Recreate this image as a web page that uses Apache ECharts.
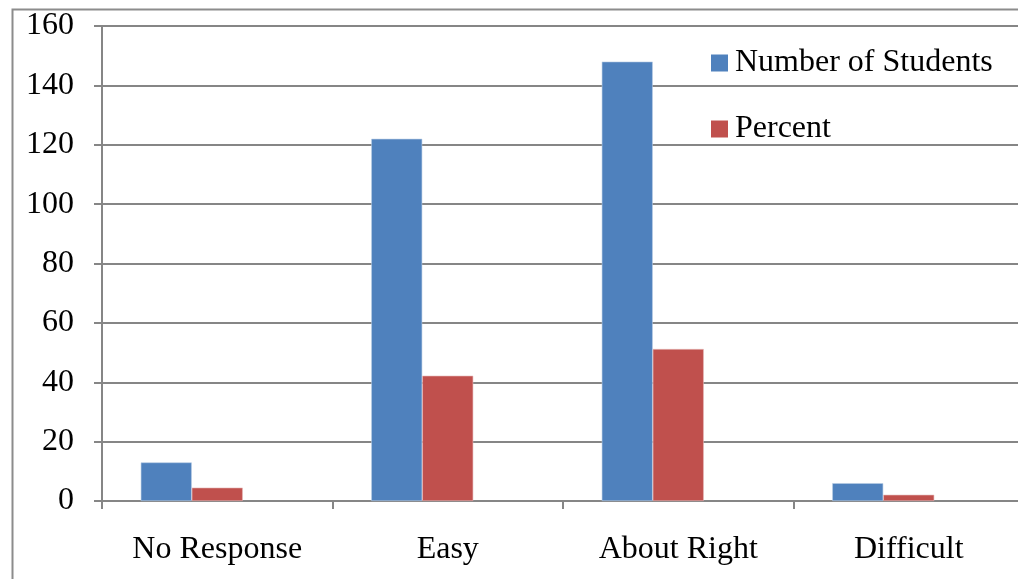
<!DOCTYPE html>
<html>
<head>
<meta charset="utf-8">
<script src="https://cdn.jsdelivr.net/npm/echarts@6/dist/echarts.min.js"></script>
<style>
  html, body { margin: 0; padding: 0; background: #ffffff; overflow: hidden; }
  /* drawing surface runs a few pixels past the right edge of the window */
  #chart { width: 1024px; height: 579px; }
</style>
</head>
<body>
<div id="chart"></div>
<script>
// Survey responses: difficulty rating
const categories = ['No Response', 'Easy', 'About Right', 'Difficult'];
const studentCounts = [13, 122, 148, 6];
const percents = [4.5, 42.2, 51.2, 2.1];
// third slot in each group is left empty (reserved column)
const reserved = [null, null, null, null];
const yTicks = { min: 0, max: 160, interval: 20 };

const font = '"Liberation Serif", "Times New Roman", serif';
const gray = '#868686';

const chart = echarts.init(document.getElementById('chart'));
chart.setOption({
  animation: false,
  backgroundColor: '#ffffff',
  graphic: [{
    type: 'rect',
    left: 10, top: 7,
    shape: { width: 1200, height: 800 },
    style: { fill: 'none', stroke: '#8c8c8c', lineWidth: 2 },
    silent: true
  }],
  grid: { left: 102, top: 26, bottom: 78, right: 0, containLabel: false },
  legend: {
    orient: 'vertical',
    left: 706, top: 42,
    itemWidth: 17, itemHeight: 17,
    itemGap: 34,
    icon: 'rect',
    itemStyle: { borderWidth: 0 },
    textStyle: { fontFamily: font, fontSize: 32, color: '#000', lineHeight: 30, padding: [0, 0, 0, 2] },
    data: ['Number of Students', 'Percent']
  },
  xAxis: {
    type: 'category',
    data: categories,
    axisLine: { lineStyle: { color: gray, width: 2 } },
    axisTick: { show: true, length: 8, alignWithLabel: false, lineStyle: { color: gray, width: 2 } },
    axisLabel: { fontFamily: font, fontSize: 32, color: '#000', margin: 33 }
  },
  yAxis: {
    type: 'value',
    min: yTicks.min, max: yTicks.max, interval: yTicks.interval,
    axisLine: { show: true, lineStyle: { color: gray, width: 2 } },
    axisTick: { show: true, length: 8, lineStyle: { color: gray, width: 2 } },
    splitLine: { lineStyle: { color: gray, width: 2 } },
    axisLabel: { fontFamily: font, fontSize: 32, color: '#000', margin: 28 }
  },
  series: [
    {
      name: 'Number of Students',
      type: 'bar',
      data: studentCounts,
      barWidth: 51,
      barGap: '0%',
      itemStyle: { color: '#4F81BD', borderColor: '#b8cce4', borderWidth: 0.6 }
    },
    {
      name: 'Percent',
      type: 'bar',
      data: percents,
      barWidth: 51,
      itemStyle: { color: '#C0504D', borderColor: '#e6b9b8', borderWidth: 0.6 }
    },
    {
      name: 'reserved',
      type: 'bar',
      data: reserved,
      barWidth: 51,
      silent: true
    }
  ]
});
</script>
</body>
</html>
